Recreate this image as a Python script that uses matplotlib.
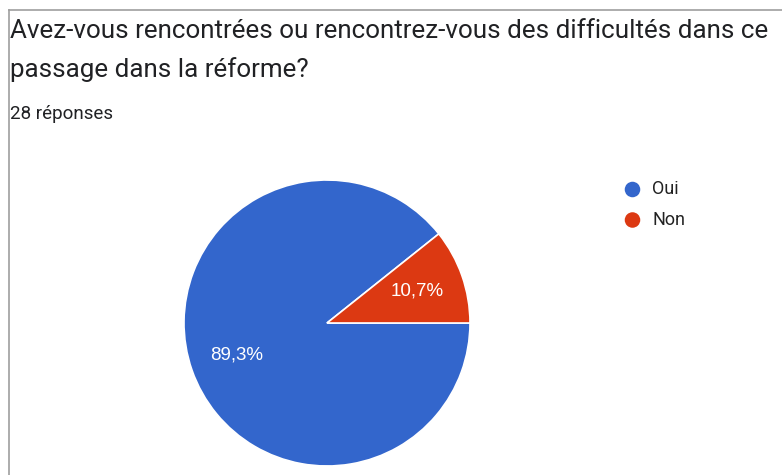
"""Google Forms style pie chart: difficultés dans la réforme."""

import matplotlib

matplotlib.use("Agg")

import matplotlib.pyplot as plt
from matplotlib.lines import Line2D


W, H = 782, 475

TITLE_LINES = [
    "Avez-vous rencontrées ou rencontrez-vous des difficultés dans ce",
    "passage dans la réforme?",
]
SUBTITLE = "28 réponses"

labels = ["Oui", "Non"]
counts = [25, 3]
colors = ["#3366cc", "#dc3912"]

plt.rcParams["font.family"] = ["Roboto", "DejaVu Sans"]


def pct_label(pct: float) -> str:
    """Format percentage with a French decimal comma."""
    return f"{pct:.1f}%".replace(".", ",")


fig = plt.figure(figsize=(W / 100, H / 100), dpi=100)
ax = fig.add_axes([0, 0, 1, 1])

# pixel-like coordinates, y measured upward
cx, cy, r = 327, H - 323, 143
start = 360 * counts[1] / sum(counts)

wedges, _, autotexts = ax.pie(
    counts,
    colors=colors,
    center=(cx, cy),
    radius=r,
    startangle=start,
    counterclock=True,
    autopct=pct_label,
    pctdistance=0.67,
    wedgeprops={"edgecolor": "white", "linewidth": 1.2},
    textprops={"color": "white", "fontsize": 13.5,
               "family": ["Liberation Sans", "DejaVu Sans"]},
)

ax.set_xlim(0, W)
ax.set_ylim(0, H)
ax.set_aspect("equal")
ax.axis("off")

# frame of the card
ax.add_line(Line2D([9, 9], [0, H - 10], color="#9e9e9e", linewidth=1.2))
ax.add_line(Line2D([9, W], [H - 10, H - 10], color="#9e9e9e", linewidth=1.2))

# title and count
for i, line in enumerate(TITLE_LINES):
    ax.text(10, H - 38 - 39 * i, line, fontsize=18.7, color="#202124",
            ha="left", va="baseline")
ax.text(10, H - 119, SUBTITLE, fontsize=13.5, color="#202124",
        ha="left", va="baseline")

# legend
for i, (label, color) in enumerate(zip(labels, colors)):
    y = H - 189.5 - 30.5 * i
    ax.scatter([632.5], [y], s=125, color=color, edgecolors="none")
    ax.text(652, y, label, fontsize=13, color="#222222", ha="left", va="center")

fig.savefig("out.png", dpi=100)
